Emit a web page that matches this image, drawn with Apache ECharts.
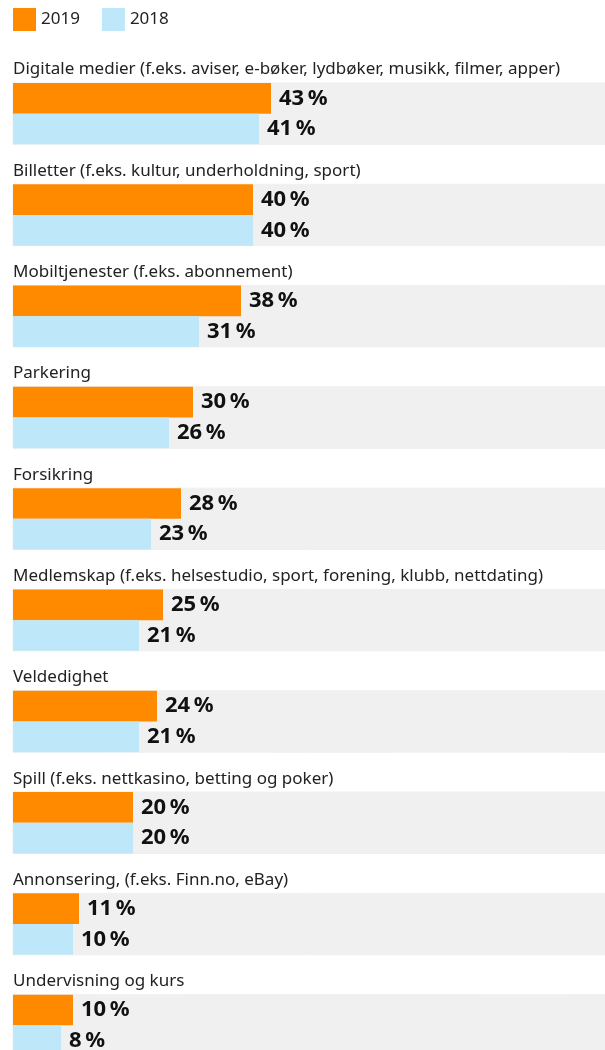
<!DOCTYPE html>
<html>
<head>
<meta charset="utf-8">
<script src="https://cdn.jsdelivr.net/npm/echarts@6/dist/echarts.min.js"></script>
<style>
  html, body { margin: 0; padding: 0; background: #fff; }
  #container { width: 605px; height: 1050px; }
</style>
</head>
<body>
<div id="container"></div>
<script>
// kategorier og verdier (prosent)
var categories = [
	'Digitale medier (f.eks. aviser, e-bøker, lydbøker, musikk, filmer, apper)',
	'Billetter (f.eks. kultur, underholdning, sport)',
	'Mobiltjenester (f.eks. abonnement)',
	'Parkering',
	'Forsikring',
	'Medlemskap (f.eks. helsestudio, sport, forening, klubb, nettdating)',
	'Veldedighet',
	'Spill (f.eks. nettkasino, betting og poker)',
	'Annonsering, (f.eks. Finn.no, eBay)',
	'Undervisning og kurs'
];
var values2019 = [43, 40, 38, 30, 28, 25, 24, 20, 11, 10];
var values2018 = [41, 40, 31, 26, 23, 21, 21, 20, 10, 8];

var myChart = echarts.init(document.getElementById('container'));

var valueLabel = {
	show : true,
	position : 'right',
	distance : 8,
	formatter : '{c}\u2009%',
	fontFamily : 'Noto Sans',
	fontWeight : 'bold',
	fontSize : 22,
	color : '#111'
};

// grå bakgrunn; kanten dekker sømmen mellom de to stolpene
var bg = { color : '#F0F0F0', borderColor : '#F0F0F0', borderWidth : 1 };

myChart.setOption({
	animation : false,
	textStyle : {
		fontFamily : 'Noto Sans'
	},
	legend : {
		data : [ '2019', '2018' ],
		left : 13,
		top : 8,
		padding : 0,
		icon : 'rect',
		itemWidth : 23,
		itemHeight : 23,
		itemGap : 22,
		textStyle : {
			fontSize : 17,
			color : '#222'
		}
	},
	grid : {
		left : 13,
		top : 63,
		width : 600,
		height : 1013,
		outerBoundsMode : 'none'
	},
	xAxis : {
		type : 'value',
		min : 0,
		max : 100,
		show : false
	},
	yAxis : {
		type : 'category',
		inverse : true,
		data : categories,
		axisLine : { show : false },
		axisTick : { show : false },
		splitLine : { show : false },
		axisLabel : {
			inside : true,
			interval : 0,
			margin : 0,
			fontSize : 17,
			color : '#222',
			verticalAlign : 'bottom',
			lineHeight : 20,
			padding : [ 0, 0, 34, 0 ]
		}
	},
	series : [ {
		name : '2019',
		type : 'bar',
		data : values2019,
		barWidth : 30.7,
		barGap : '0%',
		itemStyle : { color : '#FF8A00' },
		showBackground : true,
		backgroundStyle : bg,
		label : valueLabel
	}, {
		name : '2018',
		type : 'bar',
		data : values2018,
		barWidth : 30.7,
		barGap : '0%',
		itemStyle : { color : '#BEE7F9' },
		showBackground : true,
		backgroundStyle : bg,
		label : valueLabel
	} ]
});
</script>
</body>
</html>
